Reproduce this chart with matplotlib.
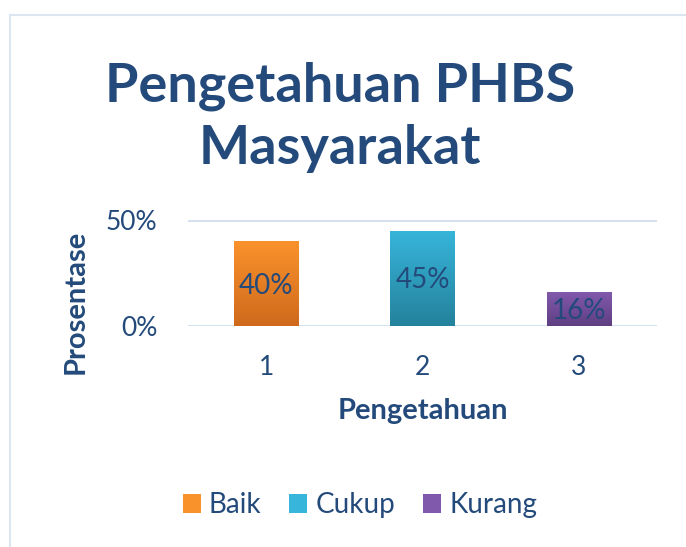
import matplotlib
matplotlib.use("Agg")
import matplotlib.pyplot as plt
from matplotlib.patches import Patch, Rectangle
from matplotlib.colors import LinearSegmentedColormap
import numpy as np

categories = [1, 2, 3]
series = ["Baik", "Cukup", "Kurang"]
values = [0.40, 0.45, 0.16]
labels = ["40%", "45%", "16%"]
# top / bottom gradient colours per series
top_colors = ["#FA922C", "#37B5DA", "#8159AC"]
bottom_colors = ["#CF6A1D", "#24829C", "#5F3F82"]

navy = "#234A7A"
plt.rcParams['font.family'] = ['Lato', 'DejaVu Sans']

fig = plt.figure(figsize=(6.86, 5.47), dpi=100)
fig.patches.append(Rectangle((10 / 686, -0.1), 1.2, 1 - 15 / 547 + 0.1,
                             transform=fig.transFigure, fill=False,
                             edgecolor="#DCE5F2", linewidth=1.5))

ax = fig.add_axes([188 / 686, 1 - 326 / 547, (657 - 188) / 686, 106 / 547])

bars = ax.bar(categories, values, width=0.41, color="none", zorder=3)
grad = np.linspace(1, 0, 100).reshape(-1, 1)
for b, tc, bc, v, lab in zip(bars, top_colors, bottom_colors, values, labels):
    cmap = LinearSegmentedColormap.from_list("g", [bc, tc])
    x0, w, h = b.get_x(), b.get_width(), b.get_height()
    im = ax.imshow(grad, cmap=cmap, vmin=0, vmax=1, aspect="auto",
                   extent=(x0, x0 + w, 0, h), zorder=3)
    im.set_clip_path(b)
    ax.text(x0 + w / 2, h / 2 - 0.01, lab, ha="center", va="center",
            fontsize=20, color=navy, zorder=4)
ax.set_xlim(0.5, 3.5)
ax.set_ylim(0, 0.5)

ax.set_yticks([0, 0.5])
ax.set_yticklabels(["0%", "50%"])
ax.set_xticks(categories)
ax.grid(axis="y", color="#D6E1F0", linewidth=2.2, zorder=1)
ax.tick_params(length=0, labelsize=19, labelcolor=navy)
ax.tick_params(axis="y", pad=22)
ax.tick_params(axis="x", pad=21)
for s in ax.spines.values():
    s.set_visible(False)

ax.set_xlabel("Pengetahuan", fontsize=21, fontweight="bold", color=navy,
              labelpad=13)
fig.text(76 / 686, 1 - 302 / 547, "Prosentase", rotation=90, ha="center",
         va="center", fontsize=21, fontweight="bold", color=navy)

fig.text(340 / 686, 1 - 117 / 547, "Pengetahuan PHBS\nMasyarakat", ha="center",
         va="center", fontsize=39, fontweight="bold", color=navy,
         linespacing=1.32)

handles = [Patch(facecolor=c, edgecolor="none") for c in top_colors]
fig.legend(handles, series, loc="center", bbox_to_anchor=(360 / 686, 1 - 505 / 547),
           ncol=3, frameon=False, fontsize=20, labelcolor=navy,
           handlelength=0.65, handleheight=0.65, handletextpad=0.3,
           columnspacing=1.0)

fig.savefig("out.png", dpi=100)
